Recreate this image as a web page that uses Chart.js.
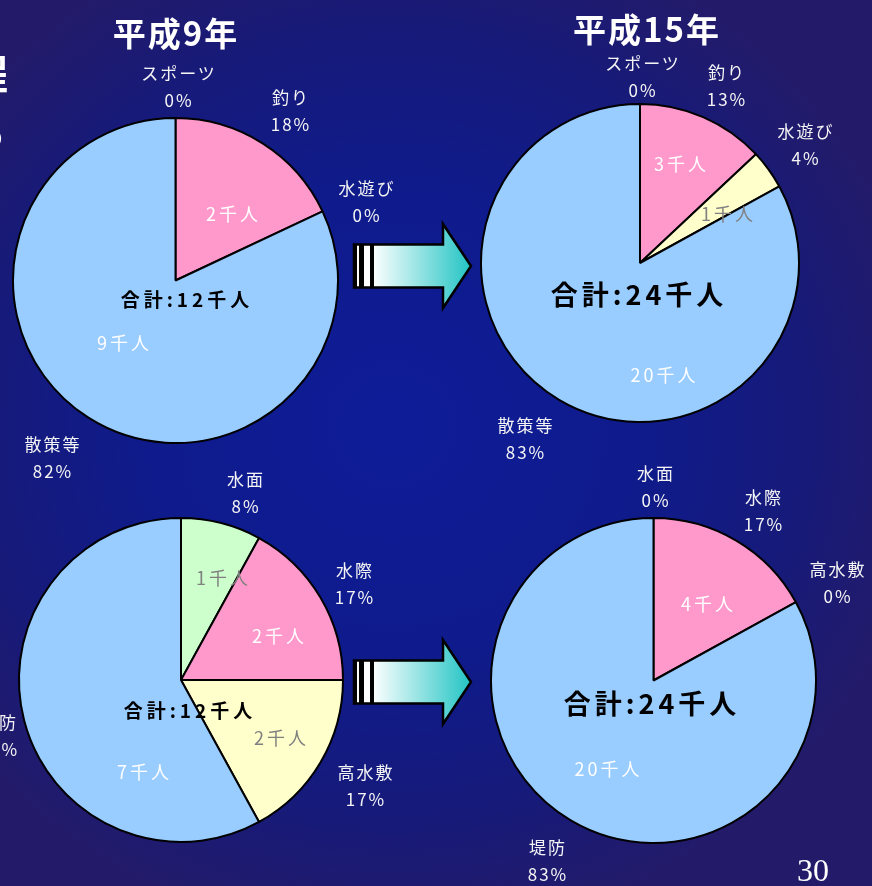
<!DOCTYPE html>
<html><head><meta charset="utf-8">
<script src="https://cdn.jsdelivr.net/npm/chart.js@4/dist/chart.umd.min.js"></script>
<style>
html,body{margin:0;padding:0;}
#stage{position:relative;width:872px;height:886px;overflow:hidden;
background:radial-gradient(ellipse 62% 58% at 45% 48%, #0e1c98 0%, #0f1b8c 45%, #161a7a 75%, #231b6a 100%);
font-family:"Noto Sans CJK JP","Noto Sans",sans-serif;}
.lbl{position:absolute;transform:translate(-50%,-50%);white-space:nowrap;text-align:center;color:#f4f4f4;font-size:17px;line-height:27px;letter-spacing:2px;padding-left:2px;}
.title{position:absolute;transform:translate(-50%,-50%);white-space:nowrap;color:#fff;font-weight:bold;font-size:33px;letter-spacing:2px;padding-left:2px;}
canvas{position:absolute;}
</style></head>
<body>
<div id="stage"><canvas id="deco" width="872" height="886" style="left:0;top:0"></canvas></div>
<script>
// ---- data ----
const titles = ['平成9年', '平成15年'];
const leisureCats = ['スポーツ', '釣り', '水遊び', '散策等'];
const h9LeisurePct = [0, 18, 0, 82];
const h9LeisurePeople = [0, 2, 0, 9];
const h15LeisurePct = [0, 13, 4, 83];
const h15LeisurePeople = [0, 3, 1, 20];
const placeCats = ['水面', '水際', '高水敷', '堤防'];
const h9PlacePct = [8, 17, 17, 58];
const h9PlacePeople = [1, 2, 2, 7];
const h15PlacePct = [0, 17, 0, 83];
const h15PlacePeople = [0, 4, 0, 20];
const totals = [12, 24, 12, 24];
const pageNumber = '30';

// ---- styles / layout ----
const sliceColors = ['#ccffcc', '#ff99cc', '#ffffcc', '#99ccff'];
const innerColors = ['#808080', '#ffffff', '#808080', '#ffffff'];
const charts = [
  {cats: leisureCats, pct: h9LeisurePct, people: h9LeisurePeople, total: totals[0],
   cx: 175.5, cy: 280, r: 162.5, totalPos: [185, 298], totalSize: 19, totalSpacing: 4,
   outer: [[178, 86], [290, 110], [366, 201], [52, 457]],
   inner: [null, [232, 213], null, [123, 342]]},
  {cats: leisureCats, pct: h15LeisurePct, people: h15LeisurePeople, total: totals[1],
   cx: 640, cy: 263, r: 159, totalPos: [637, 293], totalSize: 27, totalSpacing: 4,
   outer: [[642, 76], [726, 85], [805, 144], [525, 438]],
   inner: [null, [680, 163], [727, 213], [663, 374]]},
  {cats: placeCats, pct: h9PlacePct, people: h9PlacePeople, total: totals[2],
   cx: 180.5, cy: 680, r: 162, totalPos: [188, 709], totalSize: 19, totalSpacing: 4,
   outer: [[245, 492], [354, 583], [365, 785], [-2, 735]],
   inner: [[222, 577], [278, 635], [280, 737], [143, 771]]},
  {cats: placeCats, pct: h15PlacePct, people: h15PlacePeople, total: totals[3],
   cx: 653, cy: 680, r: 162.5, totalPos: [650, 702], totalSize: 27, totalSpacing: 4,
   outer: [[655, 486], [763, 510], [837, 582], [547, 860]],
   inner: [null, [707, 603], null, [607, 768]]}
];

const stage = document.getElementById('stage');
function addText(cls, txt, x, y, css) {
  const d = document.createElement('div');
  d.className = cls; d.innerHTML = txt;
  d.style.left = x + 'px'; d.style.top = y + 'px';
  if (css) Object.assign(d.style, css);
  stage.appendChild(d);
}

// decorations: arrows
const dc = document.getElementById('deco').getContext('2d');
function drawArrow(x0, cy) {
  const sh = 21.5, hh = 42, sx = x0 + 89, tip = x0 + 117;
  dc.beginPath();
  dc.moveTo(x0, cy - sh); dc.lineTo(sx, cy - sh); dc.lineTo(sx, cy - hh);
  dc.lineTo(tip, cy); dc.lineTo(sx, cy + hh); dc.lineTo(sx, cy + sh);
  dc.lineTo(x0, cy + sh); dc.closePath();
  const g = dc.createLinearGradient(x0 + 18, 0, tip, 0);
  g.addColorStop(0, '#ffffff'); g.addColorStop(1, '#22c4c4');
  dc.fillStyle = g; dc.fill();
  dc.lineWidth = 2.5; dc.strokeStyle = '#000'; dc.stroke();
  dc.fillStyle = '#000';
  dc.fillRect(x0, cy - sh, 3, sh * 2);
  dc.fillRect(x0 + 5, cy - sh, 5, sh * 2);
  dc.fillRect(x0 + 16, cy - sh, 4, sh * 2);
}
drawArrow(354, 266);
drawArrow(354, 682);

// titles and cut-off slide text
addText('title', titles[0], 175, 32);
addText('title', titles[1], 646, 28);
addText('title', '程', -12, 72, {fontSize: '40px'});
addText('title', 'る', -14, 130, {fontSize: '40px'});
addText('lbl', pageNumber, 813, 870, {fontFamily: '"Liberation Serif","DejaVu Serif",serif', fontSize: '32px', color: '#fff', letterSpacing: '0px', paddingLeft: '0px'});

charts.forEach((c, i) => {
  const pad = 4;
  const size = Math.ceil(2 * (c.r + pad));
  const cv = document.createElement('canvas');
  cv.width = size; cv.height = size;
  cv.style.left = (c.cx - size / 2) + 'px';
  cv.style.top = (c.cy - size / 2) + 'px';
  stage.appendChild(cv);
  new Chart(cv, {
    type: 'pie',
    data: {labels: c.cats, datasets: [{data: c.pct, backgroundColor: sliceColors,
      borderColor: '#000', borderWidth: 2, radius: c.r}]},
    options: {responsive: false, animation: false, events: [], devicePixelRatio: 1,
      layout: {padding: 0},
      plugins: {legend: {display: false}, tooltip: {enabled: false}}}
  });
  c.cats.forEach((cat, k) => {
    const [x, y] = c.outer[k];
    addText('lbl', cat + '<br>' + c.pct[k] + '%', x, y);
    if (c.inner[k]) {
      const [ix, iy] = c.inner[k];
      addText('lbl', c.people[k] + '千人', ix, iy, {fontSize: '18px', color: innerColors[k], zIndex: 2, letterSpacing: '3px', paddingLeft: '3px'});
    }
  });
  addText('lbl', '合計:' + c.total + '千人', c.totalPos[0], c.totalPos[1],
    {fontSize: c.totalSize + 'px', fontWeight: 'bold', color: '#000', zIndex: 2,
     letterSpacing: c.totalSpacing + 'px', paddingLeft: c.totalSpacing + 'px'});
});
</script>
</body></html>
